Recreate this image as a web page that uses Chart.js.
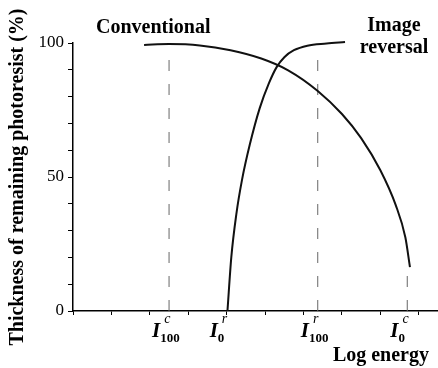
<!DOCTYPE html>
<html>
<head>
<meta charset="utf-8">
<script src="https://cdn.jsdelivr.net/npm/chart.js@4"></script>
<style>
html,body{margin:0;padding:0;background:#fff;}
#wrap{width:438px;height:368px;position:relative;}
</style>
</head>
<body>
<div id="wrap"><canvas id="c" width="438" height="368"></canvas></div>
<script>
// Data (x in log-energy tick units, y in %)
const convX = [1.85, 2.5, 3.3, 4.1, 4.9, 5.6, 6.37, 7.0, 7.5, 8.0, 8.4, 8.65, 8.77];
const convY = [99.3, 99.6, 99.1, 97.3, 94.2, 89.8, 82.1, 73.5, 64.5, 52.5, 39.5, 27.5, 16.4];
const revX = [4.02, 4.12, 4.25, 4.4, 4.6, 4.86, 5.1, 5.3, 5.5, 5.75, 6.1, 6.6, 7.08];
const revY = [0, 20, 36, 49, 62, 75.7, 85, 91, 94.7, 97.3, 99.0, 99.8, 100.4];
// Marker energies (dashed guide lines) and their top values
const markerNames = [["100", "c"], ["0", "r"], ["100", "r"], ["0", "c"]];
const markerX = [2.5, 4.0, 6.37, 8.7];
const markerTop = [97, null, 97, 17];
const xTicks = [0, 1, 2, 3, 4, 5, 6, 7, 8, 9];
const yTickLabels = [0, 50, 100];
const seriesNames = ["Conventional", "Image reversal"];

const serif = "'Liberation Serif', 'Times New Roman', serif";
const pts = (xs, ys) => xs.map((x, i) => ({x, y: ys[i]}));

const datasets = [
  {label: seriesNames[0], data: pts(convX, convY), borderColor: '#111', borderWidth: 2, cubicInterpolationMode: 'monotone', pointRadius: 0, showLine: true, clip: false},
  {label: seriesNames[1], data: pts(revX, revY), borderColor: '#111', borderWidth: 2, cubicInterpolationMode: 'monotone', pointRadius: 0, showLine: true, clip: false}
];
markerX.forEach((mx, i) => {
  if (markerTop[i] === null) return;
  datasets.push({label: 'guide' + i, data: [{x: mx, y: 0}, {x: mx, y: markerTop[i]}], borderColor: '#666', borderWidth: 1, borderDash: [11, 13], pointRadius: 0, showLine: true});
});

const annot = {
  id: 'annot',
  afterDraw(chart) {
    const ctx = chart.ctx, xs = chart.scales.x;
    ctx.save();
    ctx.fillStyle = '#000';
    ctx.textBaseline = 'alphabetic';
    ctx.font = "bold 20px " + serif;
    ctx.textAlign = 'left';
    ctx.fillText(seriesNames[0], 96, 33);
    const parts = seriesNames[1].split(' ');
    ctx.textAlign = 'center';
    ctx.fillText(parts[0], 394, 31);
    ctx.fillText(parts[1], 394, 53);
    ctx.textAlign = 'right';
    ctx.fillText('Log energy', 429, 361);
    // marker labels
    markerX.forEach((mx, i) => {
      const px = xs.getPixelForValue(mx);
      const x0 = px - 17;
      ctx.textAlign = 'left';
      ctx.font = "italic bold 21px " + serif;
      ctx.fillText('I', x0, 337);
      const iw = ctx.measureText('I').width;
      ctx.font = "bold 13px " + serif;
      ctx.fillText(markerNames[i][0], x0 + iw, 342);
      ctx.font = "italic 14px " + serif;
      ctx.fillText(markerNames[i][1], x0 + iw + 4, 323);
    });
    ctx.restore();
  }
};

new Chart(document.getElementById('c'), {
  type: 'scatter',
  data: {datasets},
  options: {
    responsive: false,
    animation: false,
    layout: {padding: {top: 43, right: 0, left: 0, bottom: 0}},
    plugins: {legend: {display: false}, tooltip: {enabled: false}},
    scales: {
      x: {
        type: 'linear', min: 0, max: 9.5,
        afterBuildTicks(s) { s.ticks = xTicks.map(v => ({value: v})); },
        afterFit(s) { s.height = 57; },
        ticks: {display: false},
        grid: {drawOnChartArea: false, drawTicks: true, tickLength: 4, color: '#000', lineWidth: 1},
        border: {color: '#000', width: 1.5}
      },
      y: {
        min: 0, max: 100,
        afterFit(s) { s.width = 73; },
        ticks: {stepSize: 10, autoSkip: false, padding: 4, color: '#000',
          font: {family: serif, size: 17},
          callback: v => yTickLabels.includes(v) ? String(v) : ''},
        grid: {drawOnChartArea: false, drawTicks: true, tickLength: 5, color: '#000', lineWidth: 1},
        border: {color: '#000', width: 1.5},
        title: {display: true, text: 'Thickness of remaining photoresist (%)', color: '#000',
          font: {family: serif, size: 20, weight: 'bold'}, padding: {top: 6, bottom: 0}}
      }
    }
  },
  plugins: [annot]
});
</script>
</body>
</html>
